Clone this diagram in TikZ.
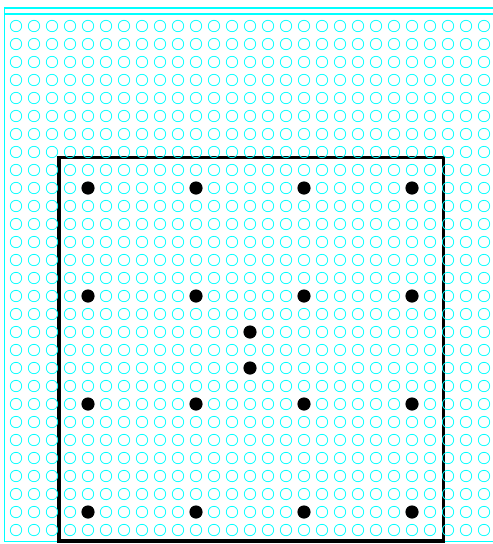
\documentclass[tikz,border=0pt]{standalone}
\definecolor{sitecyan}{RGB}{0,255,255}
\begin{document}
\begin{tikzpicture}[x = 0.05cm, y = -0.05cm]
    \useasboundingbox (0, 0) rectangle (493, 544);
    % the cyan frame, doubled along the top
    \draw[sitecyan, line width = 1.5pt] (493, 8) -- (4.5, 8) -- (4.5, 541.5) -- (493, 541.5);
    \draw[sitecyan, line width = 1.5pt] (4.5, 14) -- (493, 14);
    % the selected window
    \draw[black, line width = 4.5pt] (59, 157.5) rectangle (443.5, 541);
    % the full grid of open sites
    \foreach \i in {0, ..., 26}{
        \foreach \j in {0, ..., 28}{
            \draw[sitecyan, line width = 1.1pt] (16 + 18*\i, 26 + 18*\j) circle (0.285cm);
        }
    }
    % the occupied sites
    \foreach \x in {88, 196, 304, 412}{
        \foreach \y in {188, 296, 404, 512}{
            \fill[black] (\x, \y) circle (0.33cm);
        }
    }
    \fill[black] (250, 332) circle (0.33cm);
    \fill[black] (250, 368) circle (0.33cm);
\end{tikzpicture}
\end{document}
